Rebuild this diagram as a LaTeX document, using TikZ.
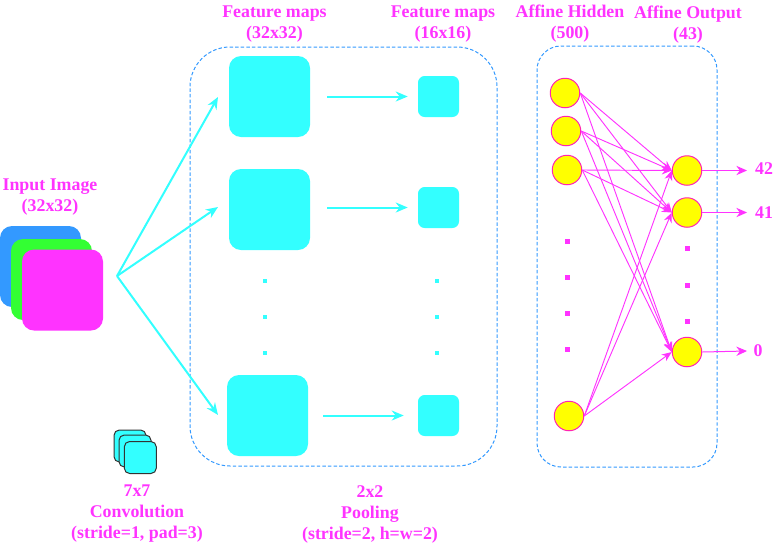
\documentclass[tikz,border=0pt]{standalone}
\usepackage{fontspec}
\setmainfont{Liberation Serif}
\usetikzlibrary{arrows.meta}
\definecolor{mag}{HTML}{FF33FF}
\definecolor{cy}{HTML}{33FFFF}
\definecolor{blu}{HTML}{3399FF}
\definecolor{grn}{HTML}{33FF33}
\definecolor{yel}{HTML}{FFFF00}
\tikzset{
  lab/.style={text=mag,font=\fontsize{13.4pt}{15.75pt}\selectfont\bfseries,align=center,inner sep=0pt},
  sq/.style={rectangle,draw=none,inner sep=0pt,minimum size=#1*0.75pt},
  big/.style={sq=81,fill=cy,rounded corners=9pt},
  small/.style={sq=41,fill=cy,rounded corners=5pt},
  inp/.style={sq=81,rounded corners=9pt},
  mini/.style={sq=32,fill=cy,draw=black!80,line width=0.75pt,rounded corners=4pt},
  frame/.style={draw=blu,dash pattern=on 2.6pt off 1.6pt,line width=0.75pt},
  neuron/.style={circle,fill=yel,draw=mag!70!red,line width=0.75pt,inner sep=0pt,minimum size=29.5*0.75pt},
  carrow/.style={draw=cy,line width=1.5pt,-{Stealth[length=9pt,width=7.5pt]}},
  marrow/.style={draw=mag,line width=0.7pt,-{Stealth[length=7.5pt,width=6pt]}},
  oarrow/.style={draw=mag,line width=0.75pt,-{Stealth[length=8pt,width=7pt]}},
  cdot/.style={rectangle,fill=cy,inner sep=0pt,minimum size=3.5pt},
  mdot/.style={rectangle,fill=mag,inner sep=0pt,minimum size=3.75pt},
}
\begin{document}
\begin{tikzpicture}[x=0.75pt,y=-0.75pt]
\useasboundingbox (0,0) rectangle (784,550);
% frames
\node[frame,rectangle,rounded corners=30pt,minimum width=307*0.75pt,minimum height=419*0.75pt,inner sep=0pt] (fa) at (343.5,256.5) {};
\node[frame,rectangle,rounded corners=18pt,minimum width=180*0.75pt,minimum height=421*0.75pt,inner sep=0pt] (fb) at (627,256.5) {};
% input
\node[inp,fill=blu] (i1) at (40.5,266.5) {};
\node[inp,fill=grn] (i2) at (51.5,279.5) {};
\node[inp,fill=mag] (i3) at (62.5,290) {};
% feature maps
\node[big] (f1) at (269.5,96.5) {};
\node[big] (f2) at (269.5,209.5) {};
\node[big] (f3) at (267.5,415.5) {};
\node[small] (s1) at (438.5,96.5) {};
\node[small] (s2) at (438.5,207.5) {};
\node[small] (s3) at (438.5,415.5) {};
% convolution fan
\coordinate (src) at (117,276);
\coordinate (e1) at (218,97);
\coordinate (e2) at (218,207);
\coordinate (e3) at (218,415);
\draw[carrow] (src) -- (e1);
\draw[carrow] (src) -- (e2);
\draw[carrow] (src) -- (e3);
\draw[carrow,shorten <=12.75pt,shorten >=7.5pt] (f1.east) -- (s1.west);
\coordinate (f2r) at (f2.east |- s2.west);
\draw[carrow,shorten <=12.75pt,shorten >=7.5pt] (f2r) -- (s2.west);
\draw[carrow,shorten <=11.25pt,shorten >=10.5pt] (f3.east) -- (s3.west);
% dots
\foreach \n/\y in {a/281,b/317,c/353}{
  \node[cdot] (cl\n) at (265,\y) {};
  \node[cdot] (cr\n) at (437,\y) {};
}
\foreach \n/\y in {a/241,b/277,c/313,d/349}{\node[mdot] (ml\n) at (567,\y) {};}
\foreach \n/\y in {a/248,b/285,c/321}{\node[mdot] (mr\n) at (687,\y) {};}
% neurons
\node[neuron] (h1) at (565,93) {};
\node[neuron] (h2) at (566,131) {};
\node[neuron] (h3) at (567,170) {};
\node[neuron] (h4) at (569,416) {};
\node[neuron] (o1) at (687,170.5) {};
\node[neuron] (o2) at (687,212.5) {};
\node[neuron] (o3) at (687,352) {};
\foreach \h in {h1,h2,h3,h4}{
  \foreach \o in {o1,o2,o3}{
    \draw[marrow] (\h.east) -- (\o.west);
  }
}
\coordinate (t1) at (747,170.5);
\coordinate (t2) at (747,212.5);
\coordinate (t3) at (747,351);
\draw[oarrow] (o1.east) -- (t1);
\draw[oarrow] (o2.east) -- (t2);
\draw[oarrow] (o3.east) -- (t3);
% mini stack
\node[mini] (m1) at (130,446) {};
\node[mini] (m2) at (135,451) {};
\node[mini] (m3) at (140.3,457.5) {};
% labels
\node[lab] (l1) at (50,197.5) {Input Image\\(32x32)};
\node[lab] (l2) at (274.5,24) {Feature maps\\(32x32)};
\node[lab] (l3) at (443,24) {Feature maps\\(16x16)};
\node[lab] (l4) at (570,24) {Affine Hidden\\(500)};
\node[lab] (l5) at (688,25) {Affine Output\\(43)};
\node[lab] (l6) at (137,514) {7x7\\Convolution\\(stride=1, pad=3)};
\node[lab] (l7) at (370,514) {2x2\\Pooling\\(stride=2, h=w=2)};
\node[lab] (n1) at (764,169) {42};
\node[lab] (n2) at (764,213) {41};
\node[lab] (n3) at (758,351) {0};
\end{tikzpicture}
\end{document}
